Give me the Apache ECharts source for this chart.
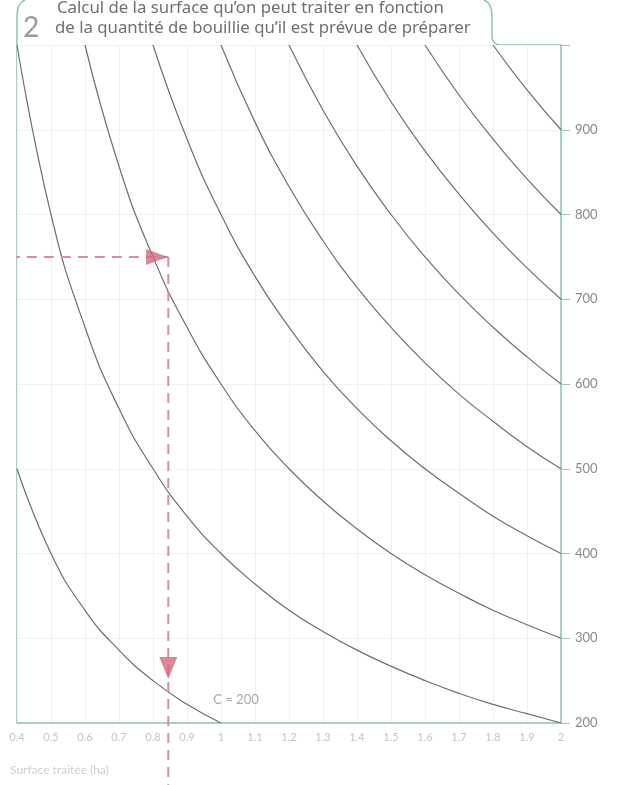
<!DOCTYPE html>
<html>
<head>
<meta charset="utf-8">
<script src="https://cdn.jsdelivr.net/npm/echarts@6/dist/echarts.min.js"></script>
<style>
  html, body { margin: 0; padding: 0; background: #fff; }
  #chart { width: 623px; height: 785px; }
</style>
</head>
<body>
<div id="chart"></div>
<script>
// surface traitée (ha) at which each curve was read
const surfaces = [0.4, 0.5, 0.6, 0.7, 0.8, 0.9, 1, 1.1, 1.2, 1.3, 1.4, 1.5, 1.6, 1.7, 1.8, 1.9, 2]

// volume/ha (null = outside the frame)
const c200  = [500, 400, 333, 286, 250, 222, 200, null, null, null, null, null, null, null, null, null, null]
const c400  = [1000, 800, 667, 571, 500, 444, 400, 364, 333, 308, 286, 267, 250, 235, 222, 211, 200]
const c600  = [null, null, 1000, 857, 750, 667, 600, 545, 500, 462, 429, 400, 375, 353, 333, 316, 300]
const c800  = [null, null, null, null, 1000, 889, 800, 727, 667, 615, 571, 533, 500, 471, 444, 421, 400]
const c1000 = [null, null, null, null, null, null, 1000, 909, 833, 769, 714, 667, 625, 588, 556, 526, 500]
const c1200 = [null, null, null, null, null, null, null, null, 1000, 923, 857, 800, 750, 706, 667, 632, 600]
const c1400 = [null, null, null, null, null, null, null, null, null, null, 1000, 933, 875, 824, 778, 737, 700]
const c1600 = [null, null, null, null, null, null, null, null, null, null, null, null, 1000, 941, 889, 842, 800]
const c1800 = [null, null, null, null, null, null, null, null, null, null, null, null, null, null, 1000, 947, 900]
const curves = [c200, c400, c600, c800, c1000, c1200, c1400, c1600, c1800]

// worked example: 750 l/ha -> ~0.845 ha
const exampleH = [[0.379, 750], [0.845, 750]]
const exampleV = [[0.845, 750], [0.845, 127]]
const arrowRight = [[0.812, 750]]
const arrowDown = [[0.845, 265]]

const xTickLabels = ['0.4', '0.5', '0.6', '0.7', '0.8', '0.9', '1', '1.1', '1.2', '1.3', '1.4', '1.5', '1.6', '1.7', '1.8', '1.9', '2']
const yTickLabels = ['200', '300', '400', '500', '600', '700', '800', '900', '']

const frameColor = '#8dc3af'
const curveColor = '#6e6e6e'
const redDash = '#d98d9f'
const redHead = '#d6687f'

const chart = echarts.init(document.getElementById('chart'))

const curveSeries = curves.map((vals, k) => {
  const s = {
    type: 'line',
    smooth: true,
    symbol: 'none',
    silent: true,
    lineStyle: { color: curveColor, width: 1.2 },
    data: surfaces.map((x, i) => [x, vals[i]]).filter(p => p[1] !== null)
  }
  if (k === 0) {
    s.markPoint = {
      symbol: 'rect',
      symbolSize: 1,
      itemStyle: { color: 'transparent' },
      label: { show: true, position: 'inside', formatter: 'C = 200', color: '#a8a8a8', fontSize: 13, fontFamily: 'Lato' },
      data: [{ coord: [1.044, 227] }]
    }
  }
  return s
})

const frameStyle = { fill: null, stroke: frameColor, lineWidth: 1.5 }

chart.setOption({
  animation: false,
  grid: { left: 17, right: 62, top: 45, bottom: 62, containLabel: false },
  xAxis: {
    type: 'value',
    min: 0.4,
    max: 2,
    interval: 0.1,
    axisLine: { show: true, onZero: false, lineStyle: { color: frameColor, width: 1.5 } },
    axisTick: { show: false },
    axisLabel: {
      color: '#c4c4c4',
      fontSize: 11,
      fontFamily: 'Lato',
      margin: 9,
      formatter: v => xTickLabels[Math.round((v - 0.4) * 10)]
    },
    splitLine: { show: true, lineStyle: { color: '#f1f1f1', width: 1 } }
  },
  yAxis: {
    type: 'value',
    position: 'right',
    min: 200,
    max: 1000,
    interval: 100,
    axisLine: { show: true, lineStyle: { color: frameColor, width: 1.5 } },
    axisTick: { show: true, length: 9, lineStyle: { color: '#9fc4b6' } },
    axisLabel: {
      color: '#8a8a8a',
      fontSize: 13,
      fontFamily: 'Lato',
      margin: 14,
      formatter: v => yTickLabels[Math.round((v - 200) / 100)]
    },
    splitLine: { show: true, lineStyle: { color: '#f1f1f1', width: 1 } }
  },
  series: curveSeries.concat([
    {
      type: 'line',
      symbol: 'none',
      clip: false,
      silent: true,
      lineStyle: { color: redDash, width: 2, type: [10, 7] },
      data: exampleH,
      z: 5
    },
    {
      type: 'line',
      symbol: 'none',
      clip: false,
      silent: true,
      lineStyle: { color: redDash, width: 2, type: [10, 7] },
      data: exampleV,
      z: 5
    },
    {
      type: 'scatter',
      symbol: 'triangle',
      symbolSize: [16, 22],
      symbolRotate: -90,
      itemStyle: { color: redHead },
      silent: true,
      data: arrowRight,
      z: 6
    },
    {
      type: 'scatter',
      symbol: 'triangle',
      symbolSize: [18, 22],
      symbolRotate: 180,
      itemStyle: { color: redHead },
      silent: true,
      data: arrowDown,
      z: 6
    }
  ]),
  graphic: [
    // tab around the heading, left border and the top-right border piece
    { type: 'bezierCurve', shape: { x1: 25, y1: 0, cpx1: 17, cpy1: 3, x2: 17, y2: 16 }, style: frameStyle },
    { type: 'polyline', shape: { points: [[17, 16], [17, 723]] }, style: frameStyle },
    { type: 'bezierCurve', shape: { x1: 484, y1: 0, cpx1: 492, cpy1: 3, x2: 492, y2: 16 }, style: frameStyle },
    { type: 'polyline', shape: { points: [[492, 16], [492, 36]] }, style: frameStyle },
    { type: 'bezierCurve', shape: { x1: 492, y1: 36, cpx1: 492, cpy1: 45, x2: 501, y2: 45 }, style: frameStyle },
    { type: 'polyline', shape: { points: [[501, 45], [561, 45]] }, style: frameStyle },
    {
      type: 'text',
      left: 23,
      top: 14,
      style: { text: '2', fill: '#9a9a9a', font: '28px Lato' }
    },
    {
      type: 'text',
      left: 57,
      top: 0,
      style: { text: 'Calcul de la surface qu\u2019on peut traiter en fonction', fill: '#707070', font: '16.8px "Noto Sans"' }
    },
    {
      type: 'text',
      left: 55,
      top: 20,
      style: { text: 'de la quantit\u00e9 de bouillie qu\u2019il est pr\u00e9vue de pr\u00e9parer', fill: '#707070', font: '16.8px "Noto Sans"' }
    },
    {
      type: 'text',
      left: 10,
      top: 764,
      style: { text: 'Surface trait\u00e9e (ha)', fill: '#cfcfcf', font: '12px Lato' }
    }
  ]
})
</script>
</body>
</html>
